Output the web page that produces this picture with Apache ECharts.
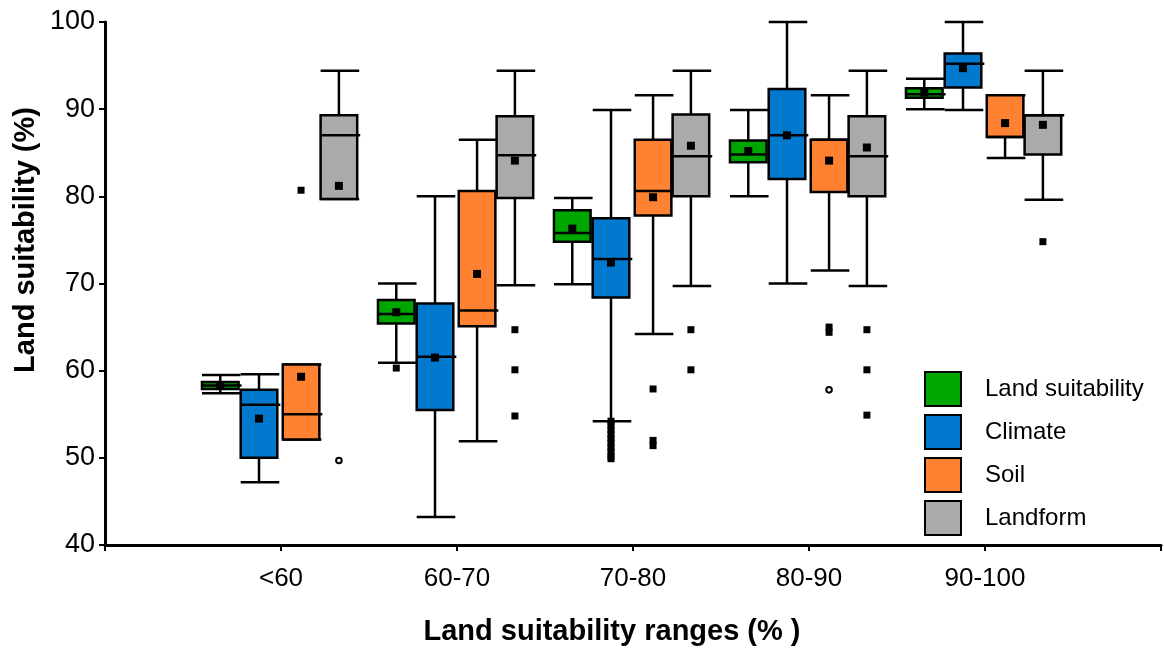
<!DOCTYPE html>
<html>
<head>
<meta charset="utf-8">
<script src="https://cdn.jsdelivr.net/npm/echarts@6/dist/echarts.min.js"></script>
<style>
html, body { margin: 0; padding: 0; background: #fff; }
#main { width: 1164px; height: 648px; }
</style>
</head>
<body>
<div id="main"></div>
<script>
var categories = ['', '<60', '60-70', '70-80', '80-90', '90-100', ''];
var seriesNames = ['Land suitability', 'Climate', 'Soil', 'Landform'];
var seriesColors = ['#00a600', '#0079cf', '#fe8232', '#aaaaaa'];
var yTicks = [40, 50, 60, 70, 80, 90, 100];

// [category index, low whisker, Q1, median, Q3, high whisker, mean]
var landBoxes = [
  [1, 57.4, 57.9, 58.3, 58.7, 59.5, 58.3],
  [2, 60.9, 65.4, 66.5, 68.1, 70.0, 66.7],
  [3, 69.9, 74.8, 75.8, 78.4, 79.8, 76.3],
  [4, 80.0, 83.9, 84.8, 86.4, 89.9, 85.2],
  [5, 90.0, 91.3, 91.7, 92.4, 93.5, 91.9]
];
var climateBoxes = [
  [1, 47.2, 50.0, 56.1, 57.8, 59.6, 54.5],
  [2, 43.2, 55.5, 61.6, 67.7, 80.0, 61.5],
  [3, 54.2, 68.4, 72.8, 77.5, 89.9, 72.4],
  [4, 70.0, 82.0, 87.0, 92.3, 100.0, 87.0],
  [5, 89.9, 92.5, 95.2, 96.4, 100.0, 94.7]
];
var soilBoxes = [
  [1, 52.1, 52.1, 55.0, 60.7, 60.7, 59.3],
  [2, 51.9, 65.1, 66.9, 80.6, 86.5, 71.1],
  [3, 64.2, 77.8, 80.6, 86.5, 91.6, 79.9],
  [4, 71.5, 80.5, 86.5, 86.5, 91.6, 84.1],
  [5, 84.4, 86.8, 86.8, 91.6, 91.6, 88.4]
];
var landformBoxes = [
  [1, 79.7, 79.7, 87.0, 89.3, 94.4, 81.2],
  [2, 69.8, 79.8, 84.7, 89.2, 94.4, 84.1],
  [3, 69.7, 80.0, 84.6, 89.4, 94.4, 85.8],
  [4, 69.7, 80.0, 84.6, 89.2, 94.4, 85.6],
  [5, 79.6, 84.8, 89.3, 89.3, 94.4, 88.2]
];

// outliers: [category index, value, 0 = filled square / 1 = open circle]
var landOutliers = [[2, 60.3, 0]];
var climateOutliers = [
  [3, 54.2, 0], [3, 53.7, 0], [3, 53.2, 0], [3, 52.7, 0], [3, 52.2, 0],
  [3, 51.7, 0], [3, 51.2, 0], [3, 50.7, 0], [3, 50.2, 0], [3, 49.9, 0]
];
var soilOutliers = [
  [1, 80.7, 0],
  [3, 57.9, 0], [3, 52.0, 0], [3, 51.4, 0],
  [4, 65.0, 0], [4, 64.4, 0], [4, 57.8, 1]
];
var landformOutliers = [
  [1, 49.7, 1],
  [2, 64.7, 0], [2, 60.1, 0], [2, 54.8, 0],
  [3, 64.7, 0], [3, 60.1, 0],
  [4, 64.7, 0], [4, 60.1, 0], [4, 54.9, 0],
  [5, 74.8, 0]
];

var boxData = [landBoxes, climateBoxes, soilBoxes, landformBoxes];
var outlierData = [landOutliers, climateOutliers, soilOutliers, landformOutliers];

// horizontal position of each series inside a category, as a share of the category step
var offsets = [-0.345, -0.125, 0.114, 0.329];
var boxWidth = 0.208;
var lineW = 2.5;

function bandOf(api) {
  return api.coord([1, 40])[0] - api.coord([0, 40])[0];
}

function boxRender(k) {
  return function (params, api) {
    var band = bandOf(api);
    var cx = api.coord([api.value(0), 40])[0] + offsets[k] * band;
    var w = boxWidth * band;
    var x0 = cx - w / 2, x1 = cx + w / 2;
    var yLow = api.coord([0, api.value(1)])[1];
    var yQ1 = api.coord([0, api.value(2)])[1];
    var yMed = api.coord([0, api.value(3)])[1];
    var yQ3 = api.coord([0, api.value(4)])[1];
    var yHigh = api.coord([0, api.value(5)])[1];
    var yMean = api.coord([0, api.value(6)])[1];
    var line = { stroke: '#000', lineWidth: lineW };
    return {
      type: 'group',
      children: [
        { type: 'line', shape: { x1: cx, y1: yHigh, x2: cx, y2: yQ3 }, style: line },
        { type: 'line', shape: { x1: cx, y1: yQ1, x2: cx, y2: yLow }, style: line },
        { type: 'line', shape: { x1: x0, y1: yHigh, x2: x1 + 2, y2: yHigh }, style: line },
        { type: 'line', shape: { x1: x0, y1: yLow, x2: x1 + 2, y2: yLow }, style: line },
        { type: 'rect', shape: { x: x0, y: yQ3, width: w, height: yQ1 - yQ3 },
          style: { fill: seriesColors[k], stroke: '#000', lineWidth: lineW } },
        { type: 'line', shape: { x1: x0, y1: yMed, x2: x1 + 3, y2: yMed }, style: { stroke: '#000', lineWidth: 2.5 } },
        { type: 'rect', shape: { x: cx - 4, y: yMean - 4, width: 8, height: 8 }, style: { fill: '#000' } }
      ]
    };
  };
}

function outlierRender(k) {
  return function (params, api) {
    var band = bandOf(api);
    var cx = api.coord([api.value(0), 40])[0] + offsets[k] * band;
    var y = api.coord([0, api.value(1)])[1];
    if (api.value(2) === 1) {
      return { type: 'circle', shape: { cx: cx, cy: y, r: 2.8 },
        style: { fill: '#fff', stroke: '#000', lineWidth: 2 } };
    }
    return { type: 'rect', shape: { x: cx - 3.5, y: y - 3.5, width: 7, height: 7 }, style: { fill: '#000' } };
  };
}

var series = [];
for (var k = 0; k < 4; k++) {
  series.push({
    name: seriesNames[k],
    type: 'custom',
    renderItem: boxRender(k),
    itemStyle: { color: seriesColors[k] },
    encode: { x: 0, y: [1, 5] },
    data: boxData[k],
    z: 2 + k
  });
}
for (var k = 0; k < 4; k++) {
  series.push({
    name: seriesNames[k],
    type: 'custom',
    renderItem: outlierRender(k),
    itemStyle: { color: seriesColors[k] },
    encode: { x: 0, y: 1 },
    data: outlierData[k],
    z: 10
  });
}

var myChart = echarts.init(document.getElementById('main'));
var option = {
  backgroundColor: '#fff',
  animation: false,
  grid: { left: 105, right: 2, top: 22, bottom: 103, containLabel: false },
  xAxis: {
    type: 'category',
    data: categories,
    boundaryGap: false,
    axisLine: { lineStyle: { color: '#000', width: 3 } },
    axisTick: { show: true, length: 6, lineStyle: { color: '#000', width: 2 } },
    axisLabel: { color: '#000', fontSize: 26, fontFamily: 'Arial', margin: 21, interval: 0 },
    splitLine: { show: false }
  },
  yAxis: {
    type: 'value',
    min: yTicks[0],
    max: yTicks[yTicks.length - 1],
    interval: 10,
    axisLine: { show: true, lineStyle: { color: '#000', width: 3 } },
    axisTick: { show: true, length: 6, lineStyle: { color: '#000', width: 2 } },
    axisLabel: { color: '#000', fontSize: 27, fontFamily: 'Arial', margin: 10 },
    splitLine: { show: false }
  },
  legend: {
    orient: 'vertical',
    left: 919,
    top: 366,
    itemWidth: 36,
    itemHeight: 34,
    itemGap: 7,
    icon: 'rect',
    itemStyle: { borderColor: '#000', borderWidth: 2 },
    textStyle: { color: '#000', fontSize: 24, fontFamily: 'Arial', padding: [0, 0, 0, 19] },
    data: seriesNames
  },
  graphic: [
    {
      type: 'text',
      x: 612,
      y: 632,
      style: { text: 'Land suitability ranges (% )', fill: '#000', font: 'bold 29px Arial',
        textAlign: 'center', textVerticalAlign: 'middle' }
    },
    {
      type: 'text',
      x: 26,
      y: 240,
      rotation: Math.PI / 2,
      style: { text: 'Land suitability (%)', fill: '#000', font: 'bold 29px Arial',
        textAlign: 'center', textVerticalAlign: 'middle' }
    }
  ],
  series: series
};
myChart.setOption(option);
</script>
</body>
</html>
